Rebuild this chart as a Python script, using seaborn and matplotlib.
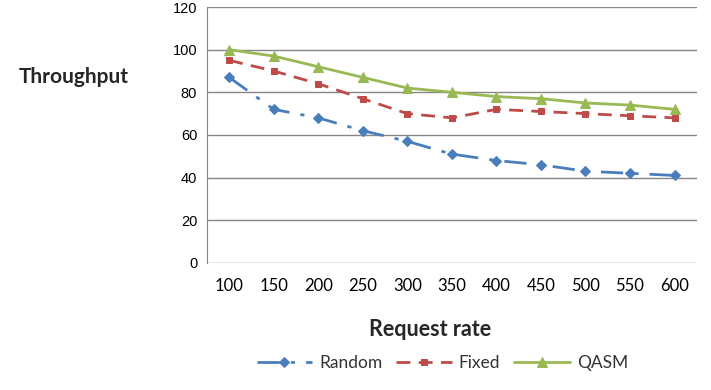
import pandas as pd
import matplotlib.pyplot as plt
import seaborn as sns

# Values
request_rate = ["100", "150", "200", "250", "300", "350", "400", "450", "500", "550", "600"]
random_tp = [87, 72, 68, 62, 57, 51, 48, 46, 43, 42, 41]
fixed_tp = [95, 90, 84, 77, 70, 68, 72, 71, 70, 69, 68]
qasm_tp = [100, 97, 92, 87, 82, 80, 78, 77, 75, 74, 72]

series = {
    "Random": (random_tp, "#4A7EBB", (0, (8, 4, 1.5, 4)), "D", 5),
    "Fixed": (fixed_tp, "#BE4B48", (0, (5, 3)), "s", 5),
    "QASM": (qasm_tp, "#98B954", "-", "^", 7.5),
}

sns.set_style("white")
plt.rcParams["font.family"] = ["Liberation Sans", "DejaVu Sans"]
calibri_like = ["Lato", "DejaVu Sans"]

fig = plt.figure(figsize=(7.11, 3.9), dpi=100)
ax = fig.add_axes([0.291, 0.326, 0.689, 0.656])

for name, (vals, color, ls, marker, ms) in series.items():
    df = pd.DataFrame({"rate": request_rate, "tp": vals})
    sns.lineplot(data=df, x="rate", y="tp", ax=ax, color=color, linestyle=ls,
                 linewidth=2, marker=marker, markersize=ms,
                 markeredgecolor=color, label=name)

ax.set_ylim(0, 120)
ax.set_xlim(-0.5, len(request_rate) - 0.5)
ax.set_yticks(range(0, 121, 20))
ax.grid(axis="y", color="#868686", linewidth=1)
ax.grid(axis="x", visible=False)
ax.set_axisbelow(True)
for s in ["top", "right", "bottom"]:
    ax.spines[s].set_visible(False)
ax.spines["left"].set_color("#868686")
ax.tick_params(axis="both", length=0, colors="#000000")
ax.tick_params(axis="y", pad=7, labelsize=10.5)
ax.tick_params(axis="x", pad=11, labelsize=12)
for lbl in ax.get_xticklabels():
    lbl.set_family(calibri_like)

ax.set_xlabel("")
ax.set_ylabel("")
fig.text(0.605, 0.154, "Request rate", fontsize=15.5, fontweight="bold",
         family=calibri_like, va="center", ha="center")
fig.text(0.027, 0.803, "Throughput", fontsize=15, fontweight="bold",
         family=calibri_like, va="center", ha="left")

handles, labels = ax.get_legend_handles_labels()
ax.legend_.remove()
leg = fig.legend(handles, labels, loc="center", bbox_to_anchor=(0.622, 0.069),
                 ncol=3, frameon=False, prop={"family": "Lato", "size": 12.5},
                 handlelength=3.2, columnspacing=0.8, handletextpad=0.4)
for t in leg.get_texts():
    t.set_color("#333333")

plt.savefig("out.png", dpi=100)
